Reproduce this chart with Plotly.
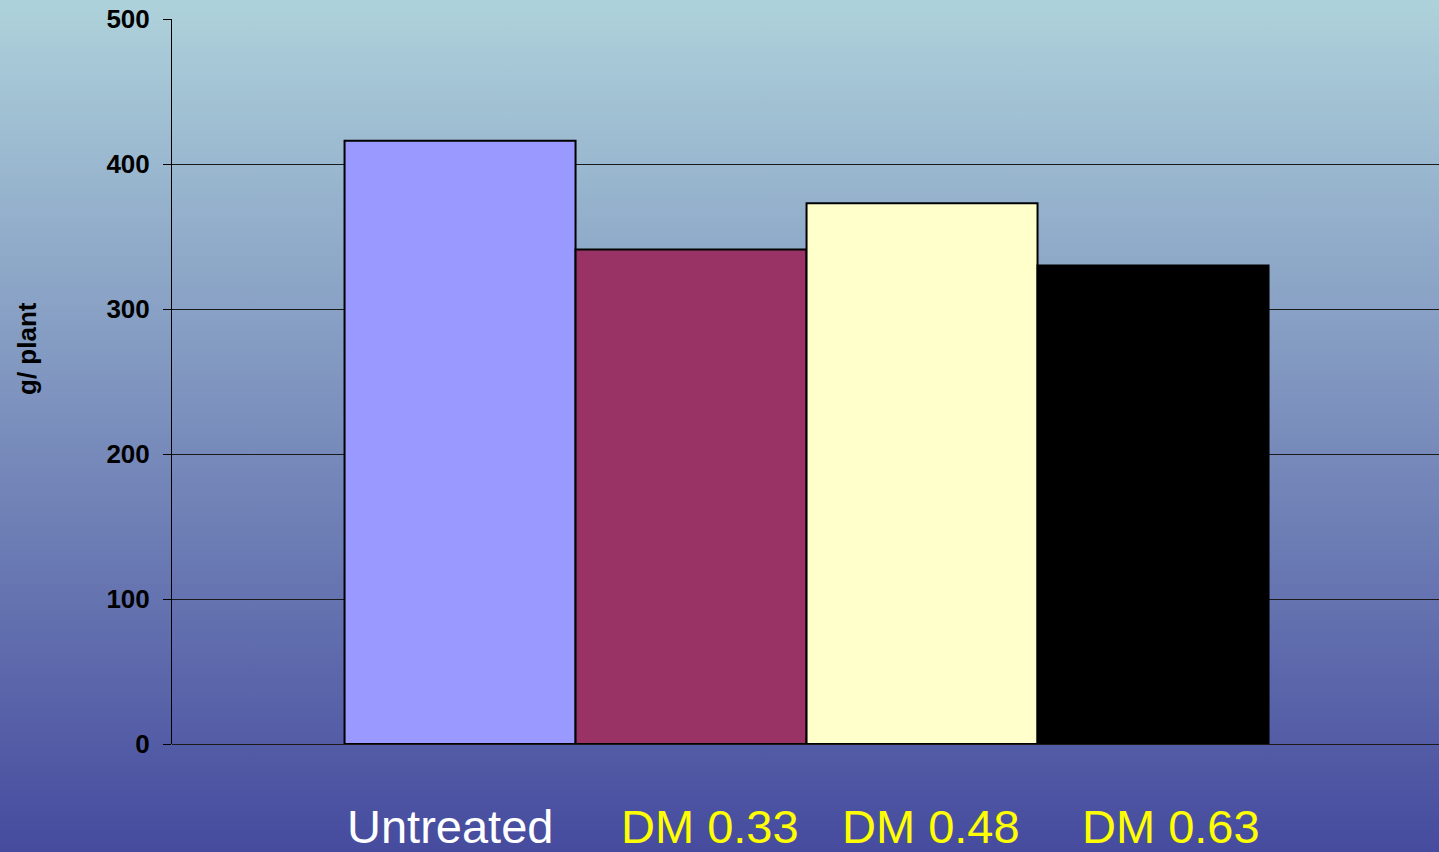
import base64
import plotly.graph_objects as go

# ---- data ----
categories = ["Untreated", "DM 0.33", "DM 0.48", "DM 0.63"]
values = [416, 341, 373, 330]
bar_colors = ["#9999ff", "#993366", "#ffffcc", "#000000"]
label_colors = ["#ffffff", "#ffff00", "#ffff00", "#ffff00"]
label_shift = [-10, 19, 9, 18]
y_ticks = [0, 100, 200, 300, 400, 500]

W, H = 1439, 852
ML, MR, MT, MB = 172, 0, 19, 108
ph = H - MT - MB

fig = go.Figure()
fig.add_trace(go.Bar(
    x=list(range(len(categories))),
    y=values,
    width=1.0,
    marker=dict(color=bar_colors, line=dict(color="#000000", width=2)),
    hoverinfo="skip",
))

# gradient background as an SVG image
svg = f"""<svg xmlns='http://www.w3.org/2000/svg' width='{W}' height='{H}' preserveAspectRatio='none'>
<defs><linearGradient id='g' x1='0' y1='0' x2='0' y2='1'>
<stop offset='0' stop-color='#aed2db'/><stop offset='1' stop-color='#464b9e'/>
</linearGradient></defs><rect width='{W}' height='{H}' fill='url(#g)'/></svg>"""
src = "data:image/svg+xml;base64," + base64.b64encode(svg.encode()).decode()

pw = W - ML - MR
fig.add_layout_image(dict(
    source=src, xref="paper", yref="paper",
    x=-ML / pw, y=1 + MT / ph,
    sizex=W / pw, sizey=H / ph,
    xanchor="left", yanchor="top", sizing="stretch", layer="below",
))

annotations = []
for i, (c, col, sh) in enumerate(zip(categories, label_colors, label_shift)):
    annotations.append(dict(
        x=i, xref="x", y=(744 - 826) / ph, yref="paper",
        text=c, showarrow=False, xshift=sh, xanchor="center", yanchor="middle",
        font=dict(family="Liberation Sans, Arial", size=47, color=col),
    ))
annotations.append(dict(
    x=(27 - ML) / pw, xref="paper", y=(744 - 349) / ph, yref="paper",
    text="g/ plant", textangle=-90, showarrow=False,
    xanchor="center", yanchor="middle",
    font=dict(family="Liberation Sans, Arial", size=26, color="#000000", weight="bold"),
))

fig.update_layout(
    width=W, height=H,
    margin=dict(l=ML, r=MR, t=MT, b=MB, pad=0),
    paper_bgcolor="rgba(0,0,0,0)",
    plot_bgcolor="rgba(0,0,0,0)",
    showlegend=False,
    annotations=annotations,
    xaxis=dict(range=[-1.247, 4.238], showticklabels=False, ticks="",
               showgrid=False, zeroline=False, showline=False, fixedrange=True),
    yaxis=dict(range=[0, 500], tickvals=y_ticks, ticks="outside", ticklen=8,
               tickcolor="#000000", tickwidth=1,
               showline=True, linecolor="#000000", linewidth=1,
               showgrid=True, gridcolor="#1a1a1a", gridwidth=1,
               zeroline=True, zerolinecolor="#1a1a1a", zerolinewidth=1,
               tickfont=dict(family="Liberation Sans, Arial", size=26, color="#000000", weight="bold"),
               ticklabelstandoff=8, fixedrange=True),
)

fig.write_html("out.html", config={"displayModeBar": False},
               post_script="document.body.style.margin='0';document.body.style.overflow='hidden';")
